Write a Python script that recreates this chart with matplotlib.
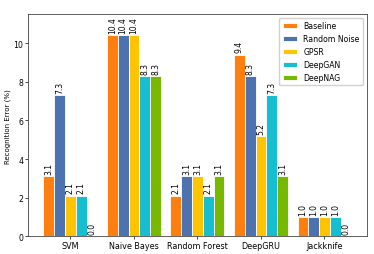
import numpy as np
import matplotlib.pyplot as plt

classifiers = ['SVM', 'Naive Bayes', 'Random Forest', 'DeepGRU', 'Jackknife']
methods = ['Baseline', 'Random Noise', 'GPSR', 'DeepGAN', 'DeepNAG']
errors = {
    'Baseline':     [3.1, 10.4, 2.1, 9.4, 1.0],
    'Random Noise': [7.3, 10.4, 3.1, 8.3, 1.0],
    'GPSR':         [2.1, 10.4, 3.1, 5.2, 1.0],
    'DeepGAN':      [2.1, 8.3, 2.1, 7.3, 1.0],
    'DeepNAG':      [0.0, 8.3, 3.1, 3.1, 0.0],
}
colors = ['#ff7f0e', '#4c72b0', '#ffc400', '#17becf', '#76b900']

fig = plt.figure(figsize=(3.74, 2.55), dpi=100)
ax = fig.add_axes([0.075, 0.069, 0.906, 0.872])

x = np.arange(len(classifiers))
w = 0.17
for k, m in enumerate(methods):
    pos = x + (k - 2) * w
    bars = ax.bar(pos, errors[m], w, color=colors[k], edgecolor='white', linewidth=0.6, label=m)
    for b, v in zip(bars, errors[m]):
        ax.text(b.get_x() + b.get_width() / 2, v + 0.12, '%.1f' % v, rotation=90,
                ha='center', va='bottom', fontsize=5.5)

ax.set_xticks(x)
ax.set_xticklabels(classifiers, fontsize=5.8)
ax.set_ylim(0, 11.5)
ax.set_yticks([0, 2, 4, 6, 8, 10])
ax.tick_params(axis='y', labelsize=5.6, length=2, width=0.5, pad=1.5)
ax.tick_params(axis='x', length=2, width=0.5, pad=1.5)
ax.set_ylabel('Recognition Error (%)', fontsize=5, labelpad=2)
for s in ax.spines.values():
    s.set_linewidth(0.6)
    s.set_color('#444444')
ax.legend(loc='upper right', fontsize=5.6, handlelength=1.8, handleheight=0.7,
          labelspacing=0.5, borderpad=0.45, framealpha=0.9)

plt.savefig('out.png', dpi=100)
